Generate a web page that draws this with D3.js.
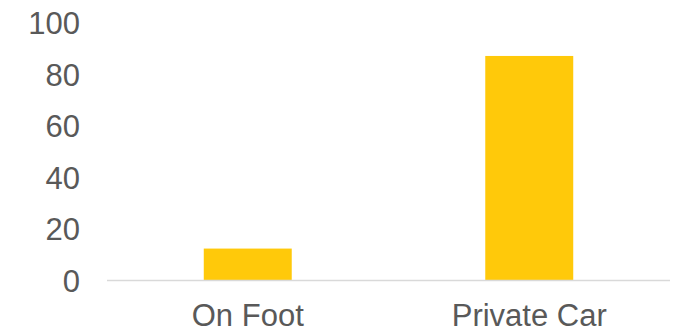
<!DOCTYPE html>
<html>
<head>
<meta charset="utf-8">
<script src="https://cdn.jsdelivr.net/npm/d3@7"></script>
<style>
  html, body { margin: 0; padding: 0; background: #fff; }
  svg { display: block; font-family: Arial, "Liberation Sans", sans-serif; }
</style>
</head>
<body>
<script>
const categories = ["On Foot", "Private Car"];
const values = [12.4, 87.2];
const yTicks = [0, 20, 40, 60, 80, 100];

const W = 682, H = 333;
const svg = d3.select("body").append("svg").attr("width", W).attr("height", H);

const x = d3.scaleBand().domain(categories).range([107, 670])
  .paddingInner(0.6875).paddingOuter(0.34375);
const y = d3.scaleLinear().domain([0, 100]).range([280.5, 23]);

// y tick labels
svg.append("g").selectAll("text").data(yTicks).join("text")
  .attr("x", 80).attr("y", d => y(d)).attr("dy", "0.36em")
  .attr("text-anchor", "end").attr("font-size", 31).attr("fill", "#595959")
  .text(d => d);

// bars
svg.append("g").selectAll("rect").data(values).join("rect")
  .attr("x", (d, i) => x(categories[i]))
  .attr("width", x.bandwidth())
  .attr("y", d => y(d))
  .attr("height", d => y(0) - y(d))
  .attr("fill", "#FFC90A");

// baseline
svg.append("line").attr("x1", 107).attr("x2", 670)
  .attr("y1", y(0)).attr("y2", y(0))
  .attr("stroke", "#D9D9D9").attr("stroke-width", 1.5);

// category labels
svg.append("g").selectAll("text").data(categories).join("text")
  .attr("x", d => x(d) + x.bandwidth() / 2).attr("y", 326)
  .attr("text-anchor", "middle").attr("font-size", 31).attr("fill", "#595959")
  .text(d => d);
</script>
</body>
</html>
